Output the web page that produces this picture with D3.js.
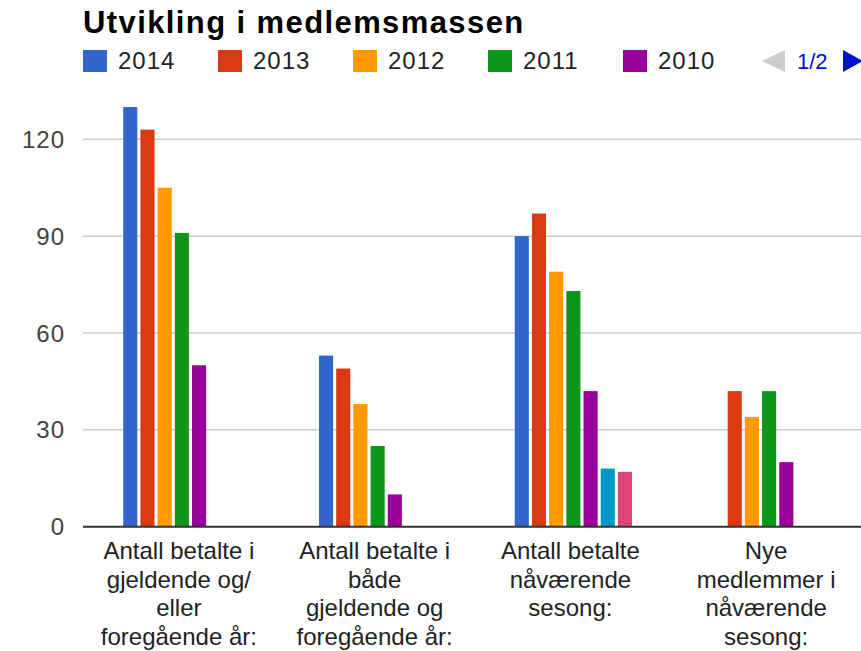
<!DOCTYPE html>
<html>
<head>
<meta charset="utf-8">
<script src="https://cdn.jsdelivr.net/npm/d3@7"></script>
<style>
  body { margin: 0; background: #fff; }
  svg { display: block; font-family: "Liberation Sans", Arial, sans-serif; }
</style>
</head>
<body>
<svg id="chart" width="861" height="651"></svg>
<script>
// data
const categories = ["c1", "c2", "c3", "c4"];
const categoryLines = [
  ["Antall betalte i", "gjeldende og/", "eller", "foregående år:"],
  ["Antall betalte i", "både", "gjeldende og", "foregående år:"],
  ["Antall betalte", "nåværende", "sesong:"],
  ["Nye", "medlemmer i", "nåværende", "sesong:"]
];
const series = ["2014", "2013", "2012", "2011", "2010", "2009", "2008"];
const v2014 = [130, 53, 90, 0];
const v2013 = [123, 49, 97, 42];
const v2012 = [105, 38, 79, 34];
const v2011 = [91, 25, 73, 42];
const v2010 = [50, 10, 42, 20];
const v2009 = [0, 0, 18, 0];
const v2008 = [0, 0, 17, 0];
const values = [v2014, v2013, v2012, v2011, v2010, v2009, v2008];
const yTicks = [0, 30, 60, 90, 120];
const legendShown = ["2014", "2013", "2012", "2011", "2010"];
const colors = ["#3366cc", "#dc3912", "#ff9900", "#109618", "#990099", "#0099c6", "#dd4477"];

const svg = d3.select("#chart");
const left = 84, right = 867;

const y = d3.scaleLinear().domain([0, 120]).range([526.7, 139.3]);
const x0 = d3.scaleBand().domain(categories).range([left, right]);
const groupW = x0.bandwidth() * 0.615;
const x1 = d3.scaleBand().domain(series)
  .range([(x0.bandwidth() - groupW) / 2, (x0.bandwidth() + groupW) / 2])
  .paddingInner(0.18).paddingOuter(0.09);
const color = d3.scaleOrdinal().domain(series).range(colors);

// gridlines
svg.append("g").selectAll("line")
  .data(yTicks.filter(d => d > 0))
  .join("line")
  .attr("x1", 83).attr("x2", 861)
  .attr("y1", d => y(d)).attr("y2", d => y(d))
  .attr("stroke", "#cccccc").attr("stroke-width", 1.5);

// y labels
svg.append("g").selectAll("text")
  .data(yTicks)
  .join("text")
  .attr("x", 65).attr("y", d => y(d) + 8.5)
  .attr("text-anchor", "end")
  .attr("font-size", 24)
  .attr("letter-spacing", 1)
  .attr("fill", "#444")
  .text(d => d);

// bars
const rows = [];
series.forEach((s, i) => {
  categories.forEach((c, j) => rows.push({ s: s, c: c, v: values[i][j] }));
});
svg.append("g").selectAll("rect")
  .data(rows.filter(d => d.v > 0))
  .join("rect")
  .attr("x", d => x0(d.c) + x1(d.s))
  .attr("y", d => y(d.v))
  .attr("width", x1.bandwidth())
  .attr("height", d => y(0) - y(d.v))
  .attr("fill", d => color(d.s));

// baseline
svg.append("line")
  .attr("x1", 83).attr("x2", 861)
  .attr("y1", y(0)).attr("y2", y(0))
  .attr("stroke", "#333").attr("stroke-width", 2);

// category labels
const cat = svg.append("g").selectAll("text")
  .data(categories)
  .join("text")
  .attr("text-anchor", "middle")
  .attr("font-size", 24)
  .attr("fill", "#222");
cat.selectAll("tspan")
  .data((d, i) => categoryLines[i].map(t => ({ t: t, c: d })))
  .join("tspan")
  .attr("x", d => x0(d.c) + x0.bandwidth() / 2 - 3)
  .attr("y", (d, i) => 559 + i * 28.7)
  .text(d => d.t);

// title
svg.append("text")
  .attr("x", 83).attr("y", 33)
  .attr("font-size", 31)
  .attr("font-weight", "bold")
  .attr("letter-spacing", 1.4)
  .attr("fill", "#000")
  .text("Utvikling i medlemsmassen");

// legend
const leg = svg.append("g").selectAll("g")
  .data(legendShown)
  .join("g")
  .attr("transform", (d, i) => `translate(${83 + i * 135},0)`);
leg.append("rect")
  .attr("x", 0).attr("y", 50).attr("width", 24).attr("height", 22)
  .attr("fill", d => color(d));
leg.append("text")
  .attr("x", 35).attr("y", 69)
  .attr("font-size", 24)
  .attr("letter-spacing", 1)
  .attr("fill", "#222")
  .text(d => d);

// pager
svg.append("path")
  .attr("d", "M762,61 L785,50 L785,72 Z")
  .attr("fill", "#cccccc");
svg.append("text")
  .attr("x", 797).attr("y", 69)
  .attr("font-size", 22)
  .attr("fill", "#0011cc")
  .text("1/2");
svg.append("path")
  .attr("d", "M843,50 L863,61 L843,72 Z")
  .attr("fill", "#0011cc");
</script>
</body>
</html>
